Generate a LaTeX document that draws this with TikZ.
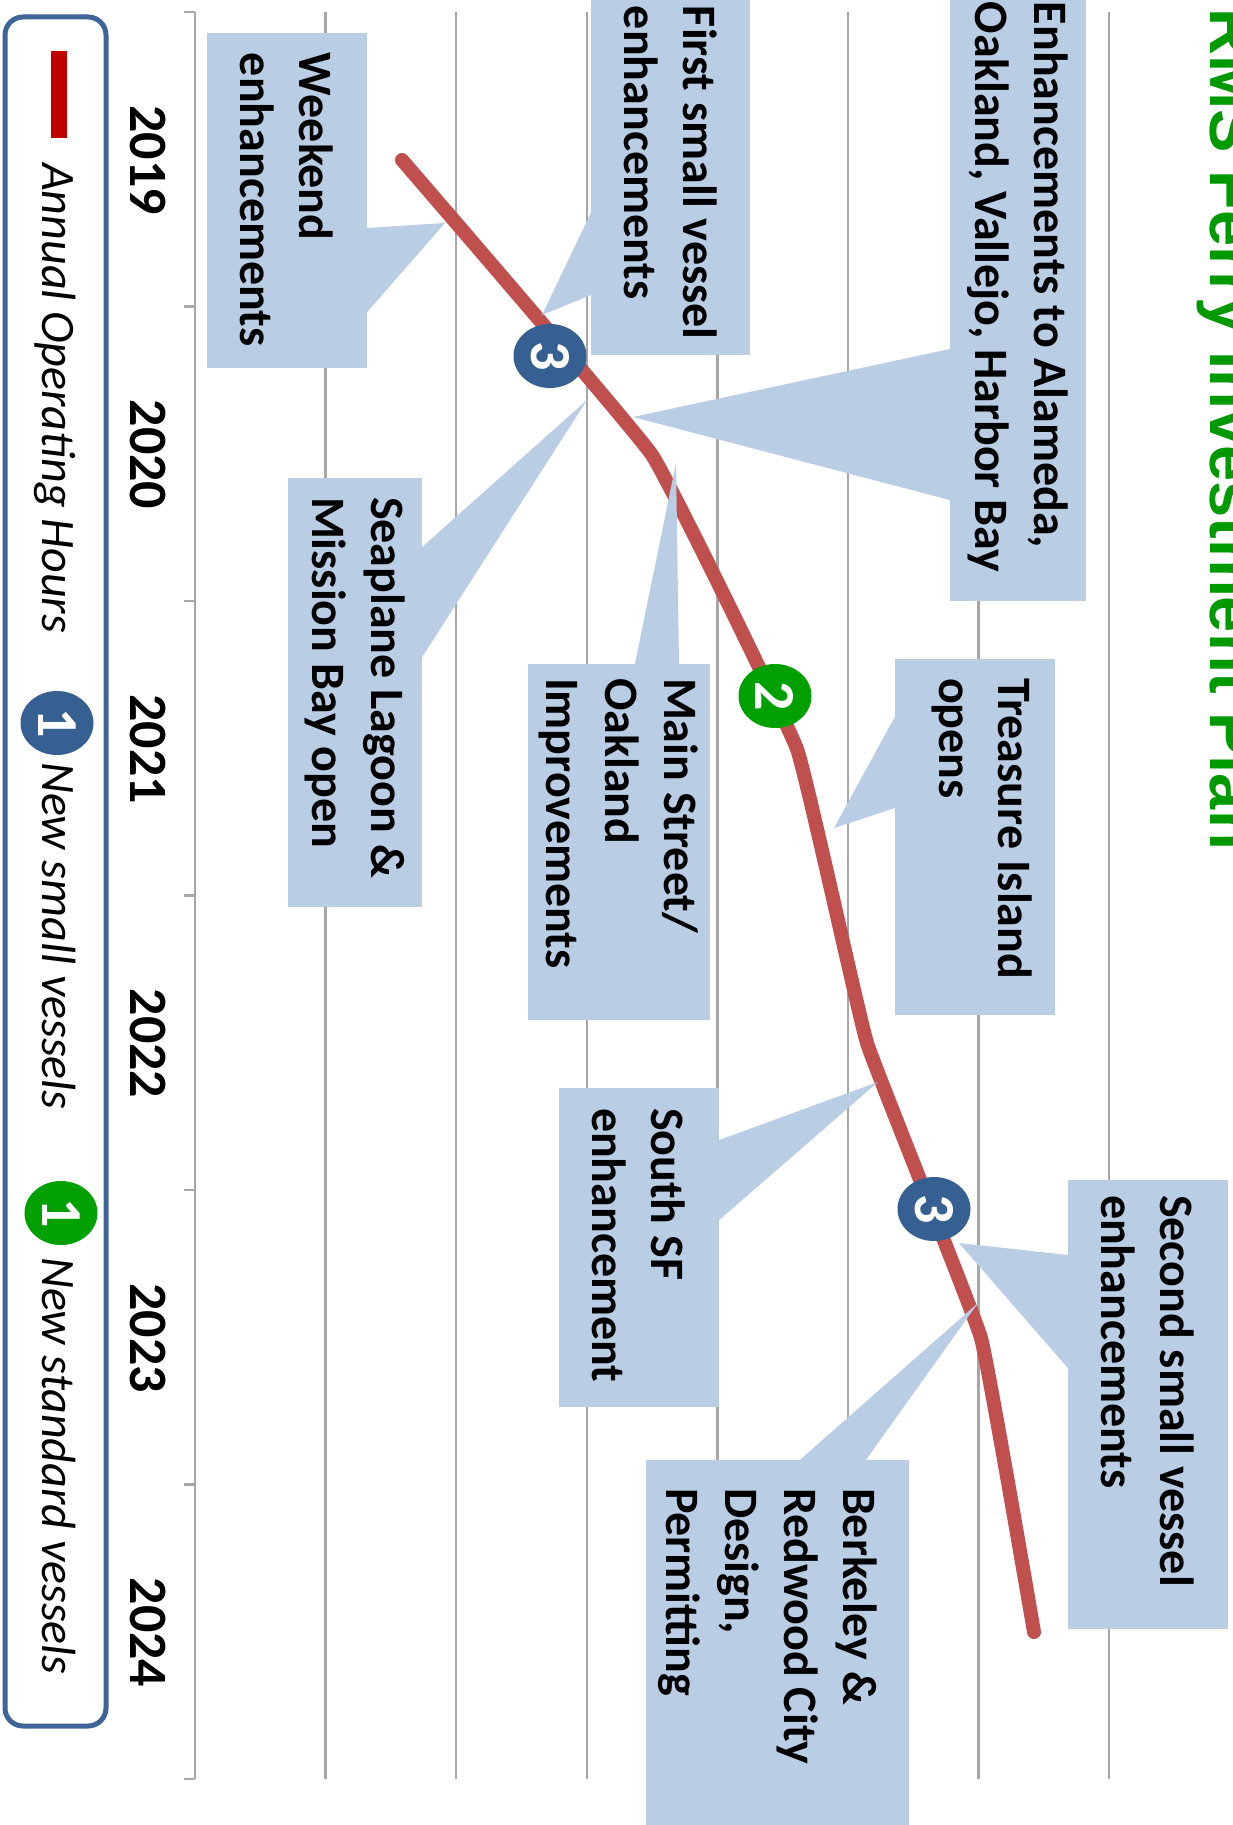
\documentclass[tikz,border=0pt]{standalone}
\usepackage{fontspec}
\setmainfont{Carlito}
\newfontfamily\titlefamily{Liberation Sans}
\usepackage{tikz}
\usetikzlibrary{shapes.geometric}
\usepackage{xcolor}

\definecolor{notefill}{HTML}{B9CDE5}
\definecolor{hoursred}{HTML}{C0504D}
\definecolor{smallblue}{HTML}{376092}
\definecolor{stdgreen}{HTML}{00A000}
\definecolor{titlegreen}{HTML}{009900}
\definecolor{gridgray}{HTML}{A6A6A6}
\definecolor{keyred}{HTML}{C00000}
\definecolor{keyframe}{HTML}{3F6497}

\newcommand{\notefont}{\bfseries\fontsize{48}{59}\selectfont}
\newcommand{\keyfont}{\itshape\fontsize{48}{58}\selectfont}
\newcommand{\yearfont}{\bfseries\fontsize{54}{60}\selectfont}
\newcommand{\markfont}{\bfseries\fontsize{58}{58}\selectfont}

\begin{document}
\begin{tikzpicture}[x=1pt,y=-1pt,
grid/.style={draw=gridgray,line width=2.5pt},
notebox/.style={fill=notefill,inner sep=0pt},
notetext/.style={rotate=-90,anchor=west,align=left,inner sep=0pt,font=\notefont},
pointer/.style={fill=notefill},
hours/.style={draw=hoursred,line width=14pt,line cap=round,line join=round},
vessel/.style={ellipse,rotate=-90,minimum width=64pt,minimum height=73pt,inner sep=0pt,text=white,font=\markfont},
smallv/.style={vessel,fill=smallblue},
stdv/.style={vessel,fill=stdgreen},
yearlbl/.style={rotate=-90,anchor=base,inner sep=0pt,font=\yearfont},
keytext/.style={rotate=-90,anchor=base west,inner sep=0pt,font=\keyfont}]
\useasboundingbox (0,0) rectangle (1232,1825);
\clip (0,0) rectangle (1232,1825);

% grid and axis
\foreach \k in {1,...,7}
  \draw[grid] ({195+130.6*\k},12) -- ({195+130.6*\k},1779);
\draw[grid] (195,12) -- (195,1779);
\foreach \t in {0,...,6}
  \draw[grid] (184,{12+294.5*\t}) -- (195,{12+294.5*\t});
\foreach \yr [count=\i] in {2019,2020,2021,2022,2023,2024}
  \node[yearlbl] (yr\yr) at (130,{160+294.5*(\i-1)}) {\yr};

% operating hours
\coordinate (p2019) at (402,160);
\coordinate (p2020) at (652,455);
\coordinate (p2021) at (797,749);
\coordinate (p2022) at (867,1043);
\coordinate (p2023) at (981,1338);
\coordinate (p2024) at (1034,1632);
\draw[hours] plot[smooth,tension=0.15] coordinates {(p2019) (p2020) (p2021) (p2022) (p2023) (p2024)};

\coordinate (wkTip) at (445,223);
\coordinate (fsTip) at (542,315);
\coordinate (alTip) at (633,417);
\coordinate (spTip) at (587,400);
\coordinate (msTip) at (676,463);
\coordinate (tiTip) at (834,828);
\coordinate (ssTip) at (878,1082);
\coordinate (svTip) at (959,1243);
\coordinate (bkTip) at (978,1303);

% callouts
\node[notebox,minimum width=160pt,minimum height=335pt] (weekend) at (287,200.5) {};
\fill[pointer] (weekend.east |- 0,228) -- (wkTip) -- (weekend.east |- 0,312) -- cycle;
\node[notetext] (weekend-t) at ([yshift=-20pt]weekend.north) {Weekend\\enhancements};

\node[notebox,minimum width=159pt,minimum height=375pt] (firstsmall) at (670.5,167.5) {};
\fill[pointer] (firstsmall.west |- 0,213) -- (fsTip) -- (firstsmall.west |- 0,295) -- cycle;
\node[notetext] (firstsmall-t) at ([yshift=-26pt]firstsmall.north) {First small vessel\\enhancements};

\node[notebox,minimum width=136pt,minimum height=625pt] (alameda) at (1018,288.5) {};
\fill[pointer] (alameda.west |- 0,349) -- (alTip) -- (alameda.west |- 0,500) -- cycle;
\node[notetext] (alameda-t) at ([yshift=-26pt]alameda.north) {Enhancements to Alameda,\\Oakland, Vallejo, Harbor Bay};

\node[notebox,minimum width=134pt,minimum height=429pt] (seaplane) at (355,692.5) {};
\fill[pointer] (seaplane.east |- 0,547) -- (spTip) -- (seaplane.east |- 0,657) -- cycle;
\node[notetext] (seaplane-t) at ([yshift=-19pt]seaplane.north) {Seaplane Lagoon \&\\Mission Bay open};

\node[notebox,minimum width=182pt,minimum height=356pt] (mainst) at (619,842) {};
\fill[pointer] (635,0 |- mainst.north) -- (msTip) -- (679,0 |- mainst.north) -- cycle;
\node[notetext] (mainst-t) at ([yshift=-14pt]mainst.north) {Main Street/\\Oakland\\Improvements};

\node[notebox,minimum width=160pt,minimum height=356pt] (treasure) at (975,837) {};
\fill[pointer] (treasure.west |- 0,717) -- (tiTip) -- (treasure.west |- 0,808) -- cycle;
\node[notetext] (treasure-t) at ([yshift=-19pt,xshift=7pt]treasure.north) {Treasure Island\\opens};

\node[notebox,minimum width=160pt,minimum height=319pt] (southsf) at (639,1247.5) {};
\fill[pointer] (southsf.east |- 0,1140) -- (ssTip) -- (southsf.east |- 0,1220) -- cycle;
\node[notetext] (southsf-t) at ([yshift=-20pt]southsf.north) {South SF\\enhancement};

\node[notebox,minimum width=160pt,minimum height=449pt] (second) at (1148,1404.5) {};
\fill[pointer] (second.west |- 0,1255) -- (svTip) -- (second.west |- 0,1368) -- cycle;
\node[notetext] (second-t) at ([yshift=-15pt]second.north) {Second small vessel\\enhancements};

\node[notebox,minimum width=263pt,minimum height=440pt] (berkeley) at (777.5,1680) {};
\fill[pointer] (800,0 |- berkeley.north) -- (bkTip) -- (866,0 |- berkeley.north) -- cycle;
\node[notetext] (berkeley-t) at ([yshift=-28pt,xshift=-10pt]berkeley.north) {Berkeley \&\\Redwood City\\Design,\\Permitting};

% vessel markers
\node[smallv] (ves1) at (550,356) {3};
\node[stdv] (ves2) at (775,696) {2};
\node[smallv] (ves3) at (934,1209) {3};

% legend
\node[draw=keyframe,line width=5pt,rounded corners=18pt,minimum width=101pt,minimum height=1709pt,inner sep=0pt] (legend) at (55.5,871.5) {};
\node[fill=keyred,minimum width=16pt,minimum height=87pt,inner sep=0pt] (keyhours) at (59,94.5) {};
\node[keytext] (keyhours-t) at (42,163) {Annual Operating Hours};
\node[smallv] (keysmall) at (57,723) {1};
\node[keytext] (keysmall-t) at (42,762) {New small vessels};
\node[stdv] (keystd) at (61,1213) {1};
\node[keytext] (keystd-t) at (42,1257) {New standard vessels};

\node[rotate=-90,anchor=base west,inner sep=0pt,text=titlegreen,font=\titlefamily\bfseries\fontsize{65}{70}\selectfont] (title) at (1210,8) {RMS Ferry Investment Plan};
\end{tikzpicture}
\end{document}
